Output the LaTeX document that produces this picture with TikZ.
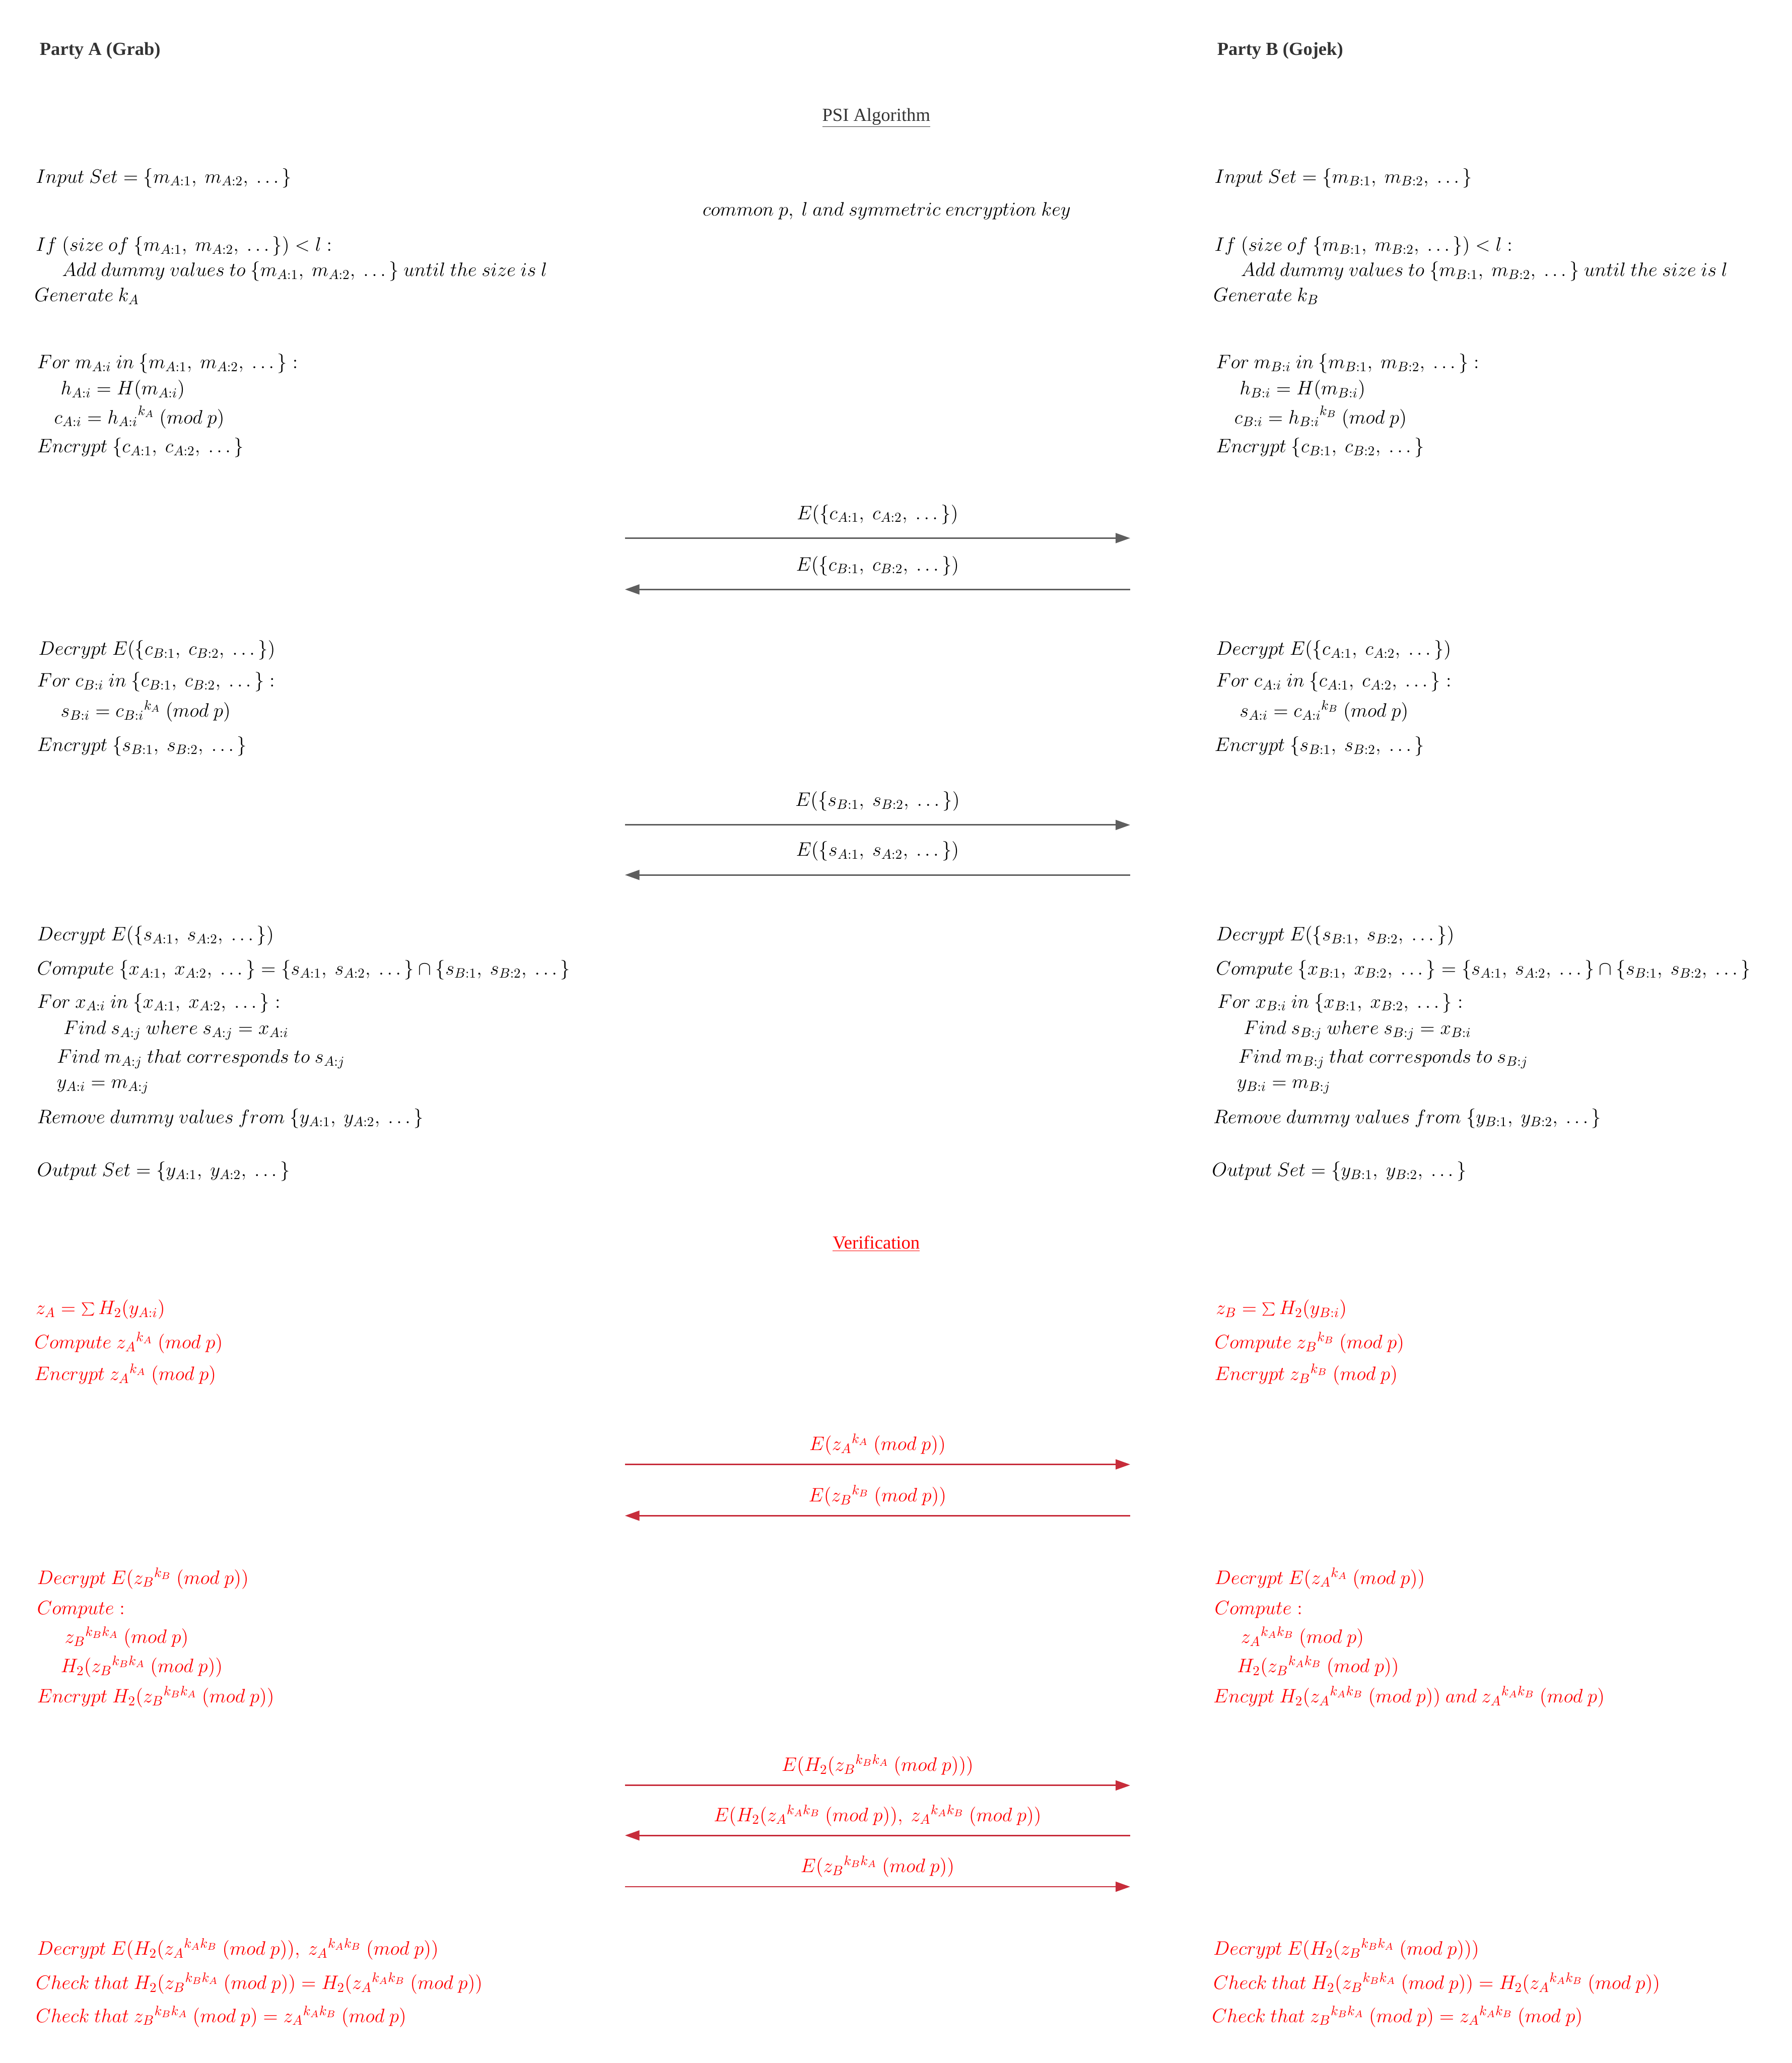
\RequirePackage{fix-cm}
\documentclass[tikz,border=0pt]{standalone}
\usepackage[no-math]{fontspec}
\setmainfont{Liberation Serif}
\usetikzlibrary{arrows.meta}
\definecolor{hdrgray}{HTML}{333333}
\definecolor{msggray}{HTML}{5E5E5E}
\definecolor{msgred}{HTML}{C72C3A}
\definecolor{verred}{HTML}{FF0000}

\begin{document}
\begin{tikzpicture}[x=1pt,y=-1pt,
        ln/.style={anchor=base west,inner sep=0pt,font=\fontsize{14.8}{17}\selectfont},
        rln/.style={ln,text=verred},
        hd/.style={anchor=base west,inner sep=0pt,text=hdrgray,font=\fontsize{14}{17}\selectfont\bfseries},
        title/.style={anchor=base,inner sep=0pt,font=\fontsize{14}{17}\selectfont},
        msg/.style={draw=msggray,line width=1.1pt,-{Triangle[length=11pt,width=7.5pt]}},
        rmsg/.style={msg,draw=msgred,fill=msgred},
        lbl/.style={above=10pt,inner sep=0pt,font=\fontsize{14.8}{17}\selectfont},
        rlbl/.style={above=6.5pt,inner sep=0pt,text=verred,font=\fontsize{14.8}{17}\selectfont}]
        \useasboundingbox (0,0) rectangle (1362,1568);

        % parties
        \node[hd] (partya) at (30,42) {Party A (Grab)};
        \node[hd] (partyb) at (925,42) {Party B (Gojek)};
        \node[title,text=hdrgray] (psi) at (666,92) {\underline{PSI Algorithm}};

        % setup
        \node[ln] (ainput) at (27,139) {$Input\ Set = \{m_{A:1},\ m_{A:2},\ \ldots\,\}$};
        \node[ln] (binput) at (923,139) {$Input\ Set = \{m_{B:1},\ m_{B:2},\ \ldots\,\}$};
        \node[title,font=\fontsize{14.8}{17}\selectfont] (common) at (674,164) {$common\ p,\ l\ and\ symmetric\ encryption\ key$};
        \node[ln] (aif) at (27,191) {$If\ (size\ of\ \{m_{A:1},\ m_{A:2},\ \ldots\,\}) < l :$};
        \node[ln] (aadd) at (47,210) {$Add\ dummy\ values\ to\ \{m_{A:1},\ m_{A:2},\ \ldots\,\}\ until\ the\ size\ is\ l$};
        \node[ln] (agen) at (26,229) {$Generate\ k_A$};
        \node[ln] (bif) at (923,191) {$If\ (size\ of\ \{m_{B:1},\ m_{B:2},\ \ldots\,\}) < l :$};
        \node[ln] (badd) at (943,210) {$Add\ dummy\ values\ to\ \{m_{B:1},\ m_{B:2},\ \ldots\,\}\ until\ the\ size\ is\ l$};
        \node[ln] (bgen) at (922,229) {$Generate\ k_B$};

        \node[ln] (afor) at (28,280) {$For\ m_{A:i}\ in\ \{m_{A:1},\ m_{A:2},\ \ldots\,\} :$};
        \node[ln] (ahash) at (46,300) {$h_{A:i} = H(m_{A:i})$};
        \node[ln] (acip) at (41,322) {$c_{A:i} = {h_{A:i}}^{k_A}\ (mod\ p)$};
        \node[ln] (aenc) at (28,344) {$Encrypt\ \{c_{A:1},\ c_{A:2},\ \ldots\,\}$};
        \node[ln] (bfor) at (924,280) {$For\ m_{B:i}\ in\ \{m_{B:1},\ m_{B:2},\ \ldots\,\} :$};
        \node[ln] (bhash) at (942,300) {$h_{B:i} = H(m_{B:i})$};
        \node[ln] (bcip) at (938,322) {$c_{B:i} = {h_{B:i}}^{k_B}\ (mod\ p)$};
        \node[ln] (benc) at (924,344) {$Encrypt\ \{c_{B:1},\ c_{B:2},\ \ldots\,\}$};

        % first exchange
        \coordinate (pa1) at (475,409); \coordinate (pb1) at (859,409);
        \coordinate (pa2) at (475,448); \coordinate (pb2) at (859,448);
        \draw[msg] (pa1) -- node[lbl] {$E(\{c_{A:1},\ c_{A:2},\ \ldots\,\})$} (pb1);
        \draw[msg] (pb2) -- node[lbl] {$E(\{c_{B:1},\ c_{B:2},\ \ldots\,\})$} (pa2);

        \node[ln] (adec) at (29,498) {$Decrypt\ E(\{c_{B:1},\ c_{B:2},\ \ldots\,\})$};
        \node[ln] (afor2) at (28,522) {$For\ c_{B:i}\ in\ \{c_{B:1},\ c_{B:2},\ \ldots\,\} :$};
        \node[ln] (asq) at (46,545) {$s_{B:i} = {c_{B:i}}^{k_A}\ (mod\ p)$};
        \node[ln] (aenc2) at (28,571) {$Encrypt\ \{s_{B:1},\ s_{B:2},\ \ldots\,\}$};
        \node[ln] (bdec) at (924,498) {$Decrypt\ E(\{c_{A:1},\ c_{A:2},\ \ldots\,\})$};
        \node[ln] (bfor2) at (924,522) {$For\ c_{A:i}\ in\ \{c_{A:1},\ c_{A:2},\ \ldots\,\} :$};
        \node[ln] (bsq) at (942,545) {$s_{A:i} = {c_{A:i}}^{k_B}\ (mod\ p)$};
        \node[ln] (benc2) at (923,571) {$Encrypt\ \{s_{B:1},\ s_{B:2},\ \ldots\,\}$};

        % second exchange
        \coordinate (pa3) at (475,627); \coordinate (pb3) at (859,627);
        \coordinate (pa4) at (475,665); \coordinate (pb4) at (859,665);
        \draw[msg] (pa3) -- node[lbl] {$E(\{s_{B:1},\ s_{B:2},\ \ldots\,\})$} (pb3);
        \draw[msg] (pb4) -- node[lbl] {$E(\{s_{A:1},\ s_{A:2},\ \ldots\,\})$} (pa4);

        \node[ln] (adec3) at (28,715) {$Decrypt\ E(\{s_{A:1},\ s_{A:2},\ \ldots\,\})$};
        \node[ln] (acomp) at (28,741) {$Compute\ \{x_{A:1},\ x_{A:2},\ \ldots\,\} = \{s_{A:1},\ s_{A:2},\ \ldots\,\} \cap \{s_{B:1},\ s_{B:2},\ \ldots\,\}$};
        \node[ln] (afor3) at (28,766) {$For\ x_{A:i}\ in\ \{x_{A:1},\ x_{A:2},\ \ldots\,\} :$};
        \node[ln] (afind) at (48,786) {$Find\ s_{A:j}\ where\ s_{A:j} = x_{A:i}$};
        \node[ln] (afindm) at (43,808) {$Find\ m_{A:j}\ that\ corresponds\ to\ s_{A:j}$};
        \node[ln] (ay) at (43,827) {$y_{A:i} = m_{A:j}$};
        \node[ln] (arem) at (28,854) {$Remove\ dummy\ values\ from\ \{y_{A:1},\ y_{A:2},\ \ldots\,\}$};
        \node[ln] (aout) at (28,894) {$Output\ Set = \{y_{A:1},\ y_{A:2},\ \ldots\,\}$};
        \node[ln] (bdec3) at (924,715) {$Decrypt\ E(\{s_{B:1},\ s_{B:2},\ \ldots\,\})$};
        \node[ln] (bcomp) at (924,741) {$Compute\ \{x_{B:1},\ x_{B:2},\ \ldots\,\} = \{s_{A:1},\ s_{A:2},\ \ldots\,\} \cap \{s_{B:1},\ s_{B:2},\ \ldots\,\}$};
        \node[ln] (bfor3) at (925,766) {$For\ x_{B:i}\ in\ \{x_{B:1},\ x_{B:2},\ \ldots\,\} :$};
        \node[ln] (bfind) at (945,786) {$Find\ s_{B:j}\ where\ s_{B:j} = x_{B:i}$};
        \node[ln] (bfindm) at (941,808) {$Find\ m_{B:j}\ that\ corresponds\ to\ s_{B:j}$};
        \node[ln] (by) at (940,827) {$y_{B:i} = m_{B:j}$};
        \node[ln] (brem) at (922,854) {$Remove\ dummy\ values\ from\ \{y_{B:1},\ y_{B:2},\ \ldots\,\}$};
        \node[ln] (bout) at (921,894) {$Output\ Set = \{y_{B:1},\ y_{B:2},\ \ldots\,\}$};

        % verification
        \node[title,text=verred] (verif) at (666,949) {\underline{Verification}};
        \node[rln] (azsum) at (27,999) {$z_A = \sum H_2(y_{A:i})$};
        \node[rln] (azcomp) at (26,1025) {$Compute\ {z_A}^{k_A}\ (mod\ p)$};
        \node[rln] (azenc) at (26,1049) {$Encrypt\ {z_A}^{k_A}\ (mod\ p)$};
        \node[rln] (bzsum) at (924,999) {$z_B = \sum H_2(y_{B:i})$};
        \node[rln] (bzcomp) at (923,1025) {$Compute\ {z_B}^{k_B}\ (mod\ p)$};
        \node[rln] (bzenc) at (923,1049) {$Encrypt\ {z_B}^{k_B}\ (mod\ p)$};

        \coordinate (pa5) at (475,1113); \coordinate (pb5) at (859,1113);
        \coordinate (pa6) at (475,1152); \coordinate (pb6) at (859,1152);
        \draw[rmsg] (pa5) -- node[rlbl] {$E({z_A}^{k_A}\ (mod\ p))$} (pb5);
        \draw[rmsg] (pb6) -- node[rlbl] {$E({z_B}^{k_B}\ (mod\ p))$} (pa6);

        \node[rln] (azdec) at (28,1204) {$Decrypt\ E({z_B}^{k_B}\ (mod\ p))$};
        \node[rln] (azcomp2) at (28,1227) {$Compute :$};
        \node[rln] (azpow) at (49,1249) {${z_B}^{k_B k_A}\ (mod\ p)$};
        \node[rln] (azh) at (46,1271) {$H_2({z_B}^{k_B k_A}\ (mod\ p))$};
        \node[rln] (azenc2) at (28,1294) {$Encrypt\ H_2({z_B}^{k_B k_A}\ (mod\ p))$};
        \node[rln] (bzdec) at (923,1204) {$Decrypt\ E({z_A}^{k_A}\ (mod\ p))$};
        \node[rln] (bzcomp2) at (923,1227) {$Compute :$};
        \node[rln] (bzpow) at (943,1249) {${z_A}^{k_A k_B}\ (mod\ p)$};
        \node[rln] (bzh) at (940,1271) {$H_2({z_B}^{k_A k_B}\ (mod\ p))$};
        \node[rln] (bzenc2) at (922,1294) {$Encypt\ H_2({z_A}^{k_A k_B}\ (mod\ p))\ and\ {z_A}^{k_A k_B}\ (mod\ p)$};

        \coordinate (pa7) at (475,1357); \coordinate (pb7) at (859,1357);
        \coordinate (pa8) at (475,1395); \coordinate (pb8) at (859,1395);
        \coordinate (pa9) at (475,1434); \coordinate (pb9) at (859,1434);
        \draw[rmsg] (pa7) -- node[rlbl] {$E(H_2({z_B}^{k_B k_A}\ (mod\ p)))$} (pb7);
        \draw[rmsg] (pb8) -- node[rlbl] {$E(H_2({z_A}^{k_A k_B}\ (mod\ p)),\ {z_A}^{k_A k_B}\ (mod\ p))$} (pa8);
        \draw[rmsg] (pa9) -- node[rlbl] {$E({z_B}^{k_B k_A}\ (mod\ p))$} (pb9);

        \node[rln] (afin) at (28,1486) {$Decrypt\ E(H_2({z_A}^{k_A k_B}\ (mod\ p)),\ {z_A}^{k_A k_B}\ (mod\ p))$};
        \node[rln] (achk) at (27,1512) {$Check\ that\ H_2({z_B}^{k_B k_A}\ (mod\ p)) = H_2({z_A}^{k_A k_B}\ (mod\ p))$};
        \node[rln] (achk2) at (27,1537) {$Check\ that\ {z_B}^{k_B k_A}\ (mod\ p) = {z_A}^{k_A k_B}\ (mod\ p)$};
        \node[rln] (bfin) at (922,1486) {$Decrypt\ E(H_2({z_B}^{k_B k_A}\ (mod\ p)))$};
        \node[rln] (bchk) at (922,1512) {$Check\ that\ H_2({z_B}^{k_B k_A}\ (mod\ p)) = H_2({z_A}^{k_A k_B}\ (mod\ p))$};
        \node[rln] (bchk2) at (921,1537) {$Check\ that\ {z_B}^{k_B k_A}\ (mod\ p) = {z_A}^{k_A k_B}\ (mod\ p)$};
\end{tikzpicture}
\end{document}
